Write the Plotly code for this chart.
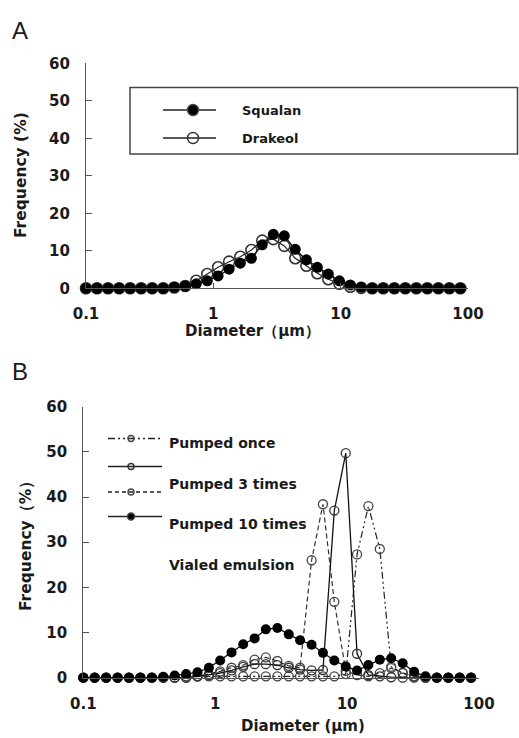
import plotly.graph_objects as go

# ---------------- data ----------------
diameter_um = [0.1, 0.122, 0.149, 0.182, 0.222, 0.271, 0.331, 0.404, 0.493, 0.602,
               0.734, 0.896, 1.09, 1.33, 1.63, 1.99, 2.42, 2.96, 3.61, 4.40,
               5.38, 6.56, 8.00, 9.77, 11.9, 14.5, 17.7, 21.6, 26.4, 32.2,
               39.3, 47.9, 58.5, 71.4, 87.1]

squalan = [0, 0, 0, 0, 0, 0, 0, 0, 0.3, 0.6,
           1.2, 2.0, 3.3, 5.1, 6.7, 8.0, 11.6, 14.4, 14.0, 10.4,
           7.6, 5.6, 3.8, 2.0, 0.9, 0.3, 0, 0, 0, 0,
           0, 0, 0, 0, 0]
drakeol = [0, 0, 0, 0, 0, 0, 0, 0, 0.2, 0.6,
           2.0, 3.8, 5.6, 7.1, 8.4, 10.2, 12.7, 13.1, 11.3, 8.0,
           6.0, 4.0, 2.4, 1.2, 0.4, 0.1, 0, 0, 0, 0,
           0, 0, 0, 0, 0]

pumped_once = [0, 0, 0, 0, 0, 0, 0, 0, 0, 0.3,
               0.3, 0.3, 0.3, 0.3, 0.3, 0.3, 0.3, 0.3, 0.3, 0.3,
               0.3, 0.3, 0.3, 0.8, 27.3, 38.0, 28.5, 2.4, 1.0, 0.3,
               0, 0, 0, 0, 0]
pumped_3 = [0, 0, 0, 0, 0, 0, 0, 0, 0, 0,
            0.3, 0.6, 1.0, 1.6, 2.4, 3.0, 3.0, 2.8, 2.2, 1.8,
            1.6, 1.7, 37.0, 49.7, 5.3, 0.6, 0.3, 0.1, 0, 0,
            0, 0, 0, 0, 0]
pumped_10 = [0, 0, 0, 0, 0, 0, 0, 0, 0, 0,
             0.3, 0.8, 1.4, 2.2, 2.8, 4.0, 4.5, 3.7, 2.6, 2.2,
             26.0, 38.4, 16.8, 1.5, 0.6, 0.3, 1.0, 2.1, 1.1, 0.3,
             0, 0, 0, 0, 0]
vialed = [0, 0, 0, 0, 0, 0, 0, 0.2, 0.5, 0.8,
          1.2, 2.2, 3.8, 5.6, 7.4, 8.7, 10.7, 11.0, 9.6, 8.3,
          7.3, 5.5, 3.8, 2.5, 1.6, 2.8, 4.0, 4.3, 3.2, 1.3,
          0.3, 0, 0, 0, 0]

x_tick_vals = [0.1, 1, 10, 100]
x_tick_text = ["0.1", "1", "10", "100"]
y_tick_vals = [0, 10, 20, 30, 40, 50, 60]

# ---------------- styling ----------------
W, H = 519, 738
TXT = "#1a1a1a"
AX = "#555555"
tick_font = dict(family="DejaVu Sans", size=15, color=TXT, weight="bold")
dash_dotdot = "7px,3px,2px,3px,2px,3px"
dash_short = "5px,3px"


def px(x):
    return x / W


def py(y):
    return 1 - y / H


fig = go.Figure()

# Panel A
fig.add_trace(go.Scatter(x=diameter_um, y=drakeol, mode="lines+markers",
                         line=dict(color="#222", width=1.2),
                         marker=dict(symbol="circle-open", size=11, color="#333",
                                     line=dict(width=1.6)),
                         cliponaxis=False, xaxis="x", yaxis="y"))
fig.add_trace(go.Scatter(x=diameter_um, y=squalan, mode="lines+markers",
                         line=dict(color="#111", width=1.2),
                         marker=dict(symbol="circle", size=11, color="#000"),
                         cliponaxis=False, xaxis="x", yaxis="y"))

# Panel B
fig.add_trace(go.Scatter(x=diameter_um, y=pumped_once, mode="lines+markers",
                         line=dict(color="#222", width=1.2, dash=dash_dotdot),
                         marker=dict(symbol="circle-open", size=9, color="#444",
                                     line=dict(width=1.3)),
                         cliponaxis=False, xaxis="x2", yaxis="y2"))
fig.add_trace(go.Scatter(x=diameter_um, y=pumped_10, mode="lines+markers",
                         line=dict(color="#333", width=1.2, dash=dash_short),
                         marker=dict(symbol="circle-open", size=9, color="#444",
                                     line=dict(width=1.3)),
                         cliponaxis=False, xaxis="x2", yaxis="y2"))
fig.add_trace(go.Scatter(x=diameter_um, y=pumped_3, mode="lines+markers",
                         line=dict(color="#111", width=1.3),
                         marker=dict(symbol="circle-open", size=9, color="#333",
                                     line=dict(width=1.3)),
                         cliponaxis=False, xaxis="x2", yaxis="y2"))
fig.add_trace(go.Scatter(x=diameter_um, y=vialed, mode="lines+markers",
                         line=dict(color="#111", width=1.3),
                         marker=dict(symbol="circle", size=10, color="#000"),
                         cliponaxis=False, xaxis="x2", yaxis="y2"))


# Legend samples (overlay axis in pixel units)
def sample(x0, x1, xm, y, dash, symbol, size, mcolor):
    fig.add_trace(go.Scatter(x=[x0, x1], y=[y, y], mode="lines",
                             line=dict(color="#222", width=1.3, dash=dash),
                             cliponaxis=False, xaxis="x3", yaxis="y3",
                             hoverinfo="skip"))
    fig.add_trace(go.Scatter(x=[xm], y=[y], mode="markers",
                             marker=dict(symbol=symbol, size=size, color=mcolor,
                                         line=dict(width=1.4)),
                             cliponaxis=False, xaxis="x3", yaxis="y3",
                             hoverinfo="skip"))


sample(163, 216, 193, 110, "solid", "circle", 11, "#000")
sample(163, 216, 193, 138, "solid", "circle-open", 11, "#333")
sample(108, 162, 131, 438.5, dash_dotdot, "circle-open", 6, "#444")
sample(108, 162, 131, 466.5, "solid", "circle-open", 6, "#333")
sample(108, 162, 131, 492, "4px,3px", "circle-open", 6, "#444")
sample(108, 162, 131, 516.5, "solid", "circle", 7, "#000")

common_x = dict(type="log", range=[-1, 2], tickvals=x_tick_vals, ticktext=x_tick_text,
                ticks="inside", ticklen=5, tickcolor=AX, tickwidth=1,
                showline=True, linecolor=AX, linewidth=1.3, showgrid=False,
                zeroline=False, tickfont=tick_font, ticklabelstandoff=12,
                automargin=False)
common_y = dict(range=[0, 60], tickvals=y_tick_vals, ticks="inside", ticklen=6,
                tickcolor=AX, tickwidth=1, showline=True, linecolor=AX,
                linewidth=1.3, showgrid=False, zeroline=False, tickfont=tick_font,
                ticklabelstandoff=12, automargin=False)

ann = []


def text(x, y, s, size, xanchor="center", yanchor="middle", angle=0, weight="bold",
         family="DejaVu Sans"):
    ann.append(dict(x=px(x), y=py(y), xref="paper", yref="paper", text=s,
                    showarrow=False, xanchor=xanchor, yanchor=yanchor,
                    textangle=angle,
                    font=dict(family=family, size=size, color=TXT, weight=weight)))


text(10, 30, "A", 24, xanchor="left", weight="normal", family="Liberation Sans")
text(10, 371, "B", 24, xanchor="left", weight="normal", family="Liberation Sans")
text(21, 175, "Frequency (%)", 15.5, angle=-90)
text(252, 331, "Diameter（μm）", 15)
text(26, 542, "Frequency（%）", 15.5, angle=-90)
text(303, 726, "Diameter (μm)", 15)

text(240, 110, "Squalan", 13, xanchor="left")
text(240, 138, "Drakeol", 13, xanchor="left")
text(167, 442.5, "Pumped once", 14, xanchor="left")
text(167, 483.5, "Pumped 3 times", 14, xanchor="left")
text(167, 524, "Pumped 10 times", 14, xanchor="left")
text(167, 565, "Vialed emulsion", 14, xanchor="left")

fig.update_layout(
    template="none",
    width=W, height=H, autosize=False,
    margin=dict(l=0, r=0, t=0, b=0, pad=0, autoexpand=False),
    paper_bgcolor="white", plot_bgcolor="rgba(0,0,0,0)",
    showlegend=False,
    xaxis=dict(domain=[px(86), px(468)], anchor="y", **common_x),
    yaxis=dict(domain=[py(288.3), py(63.3)], anchor="x", **common_y),
    xaxis2=dict(domain=[px(83.3), px(479)], anchor="y2", **common_x),
    yaxis2=dict(domain=[py(677.7), py(406.7)], anchor="x2", **common_y),
    xaxis3=dict(domain=[0, 1], range=[0, W], visible=False, anchor="y3",
                fixedrange=True, automargin=False),
    yaxis3=dict(domain=[0, 1], range=[H, 0], visible=False, anchor="x3",
                fixedrange=True, automargin=False),
    shapes=[dict(type="rect", xref="paper", yref="paper",
                 x0=px(130), x1=px(517.5), y0=py(154), y1=py(87.5),
                 line=dict(color="#444", width=1.5))],
    annotations=ann,
)

fig.write_html("out.html",
               config={"displayModeBar": False},
               post_script="document.body.style.margin='0';"
                           "document.body.style.overflow='hidden';")
